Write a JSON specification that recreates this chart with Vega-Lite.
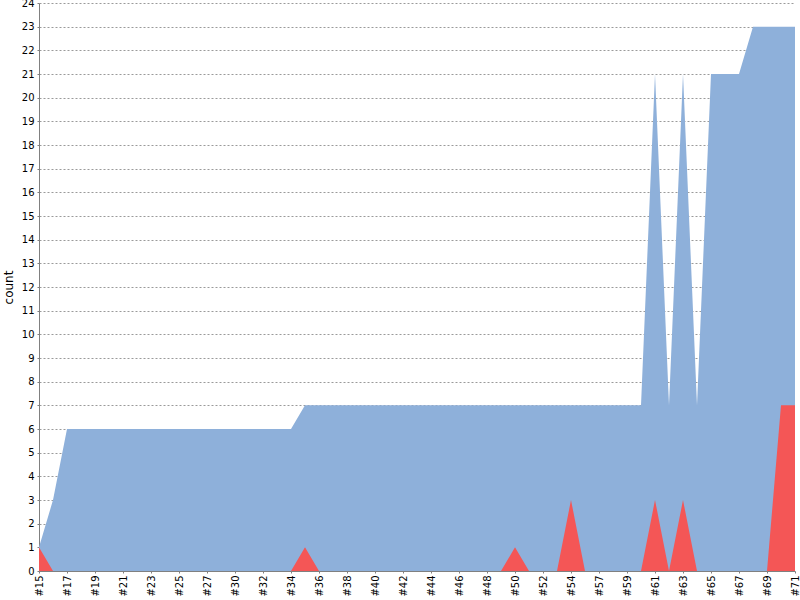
{
  "$schema": "https://vega.github.io/schema/vega-lite/v6.json",
  "width": 756,
  "height": 568,
  "autosize": {"type": "none"},
  "padding": {"left": 39, "top": 3, "right": 5, "bottom": 29},
  "background": "white",
  "config": {
    "view": {"stroke": null},
    "font": "DejaVu Sans",
    "axis": {
      "labelFont": "DejaVu Sans",
      "labelFontSize": 10,
      "labelColor": "#000000",
      "labelOverlap": false,
      "titleFont": "DejaVu Sans",
      "titleFontWeight": "normal",
      "titleFontSize": 12,
      "titleColor": "#000000",
      "domainColor": "#808080",
      "tickColor": "#808080",
      "zindex": 1
    }
  },
  "data": {
    "values": [
      {"build": "#15", "total": 1, "failed": 1},
      {"build": "#16", "total": 3, "failed": 0},
      {"build": "#17", "total": 6, "failed": 0},
      {"build": "#18", "total": 6, "failed": 0},
      {"build": "#19", "total": 6, "failed": 0},
      {"build": "#20", "total": 6, "failed": 0},
      {"build": "#21", "total": 6, "failed": 0},
      {"build": "#22", "total": 6, "failed": 0},
      {"build": "#23", "total": 6, "failed": 0},
      {"build": "#24", "total": 6, "failed": 0},
      {"build": "#25", "total": 6, "failed": 0},
      {"build": "#26", "total": 6, "failed": 0},
      {"build": "#27", "total": 6, "failed": 0},
      {"build": "#29", "total": 6, "failed": 0},
      {"build": "#30", "total": 6, "failed": 0},
      {"build": "#31", "total": 6, "failed": 0},
      {"build": "#32", "total": 6, "failed": 0},
      {"build": "#33", "total": 6, "failed": 0},
      {"build": "#34", "total": 6, "failed": 0},
      {"build": "#35", "total": 7, "failed": 1},
      {"build": "#36", "total": 7, "failed": 0},
      {"build": "#37", "total": 7, "failed": 0},
      {"build": "#38", "total": 7, "failed": 0},
      {"build": "#39", "total": 7, "failed": 0},
      {"build": "#40", "total": 7, "failed": 0},
      {"build": "#41", "total": 7, "failed": 0},
      {"build": "#42", "total": 7, "failed": 0},
      {"build": "#43", "total": 7, "failed": 0},
      {"build": "#44", "total": 7, "failed": 0},
      {"build": "#45", "total": 7, "failed": 0},
      {"build": "#46", "total": 7, "failed": 0},
      {"build": "#47", "total": 7, "failed": 0},
      {"build": "#48", "total": 7, "failed": 0},
      {"build": "#49", "total": 7, "failed": 0},
      {"build": "#50", "total": 7, "failed": 1},
      {"build": "#51", "total": 7, "failed": 0},
      {"build": "#52", "total": 7, "failed": 0},
      {"build": "#53", "total": 7, "failed": 0},
      {"build": "#54", "total": 7, "failed": 3},
      {"build": "#56", "total": 7, "failed": 0},
      {"build": "#57", "total": 7, "failed": 0},
      {"build": "#58", "total": 7, "failed": 0},
      {"build": "#59", "total": 7, "failed": 0},
      {"build": "#60", "total": 7, "failed": 0},
      {"build": "#61", "total": 21, "failed": 3},
      {"build": "#62", "total": 7, "failed": 0},
      {"build": "#63", "total": 21, "failed": 3},
      {"build": "#64", "total": 7, "failed": 0},
      {"build": "#65", "total": 21, "failed": 0},
      {"build": "#66", "total": 21, "failed": 0},
      {"build": "#67", "total": 21, "failed": 0},
      {"build": "#68", "total": 23, "failed": 0},
      {"build": "#69", "total": 23, "failed": 0},
      {"build": "#70", "total": 23, "failed": 7},
      {"build": "#71", "total": 23, "failed": 7}
    ]
  },
  "encoding": {
    "x": {
      "field": "build",
      "type": "ordinal",
      "sort": null,
      "scale": {"type": "point", "padding": 0},
      "axis": {
        "title": null,
        "values": ["#15", "#17", "#19", "#21", "#23", "#25", "#27", "#30", "#32", "#34", "#36", "#38", "#40", "#42", "#44", "#46", "#48", "#50", "#52", "#54", "#57", "#59", "#61", "#63", "#65", "#67", "#69", "#71"],
        "labelAngle": -90,
        "labelAlign": "right",
        "labelBaseline": "middle",
        "labelPadding": 2,
        "tickSize": 2,
        "grid": false
      }
    }
  },
  "layer": [
    {
      "mark": {"type": "area", "color": "#8eb0da", "interpolate": "linear"},
      "encoding": {
        "y": {
          "field": "total",
          "type": "quantitative",
          "scale": {"domain": [0, 24], "nice": false},
          "axis": {
            "title": "count",
            "titlePadding": 6,
            "values": [0, 1, 2, 3, 4, 5, 6, 7, 8, 9, 10, 11, 12, 13, 14, 15, 16, 17, 18, 19, 20, 21, 22, 23, 24],
            "tickCount": 30,
            "labelOverlap": false,
            "tickSize": 2,
            "labelPadding": 3,
            "grid": true,
            "gridColor": "#808080",
            "gridDash": [2, 2],
            "gridWidth": 0.8
          }
        }
      }
    },
    {
      "mark": {"type": "area", "color": "#f45656", "interpolate": "linear"},
      "encoding": {
        "y": {"field": "failed", "type": "quantitative"}
      }
    }
  ]
}
